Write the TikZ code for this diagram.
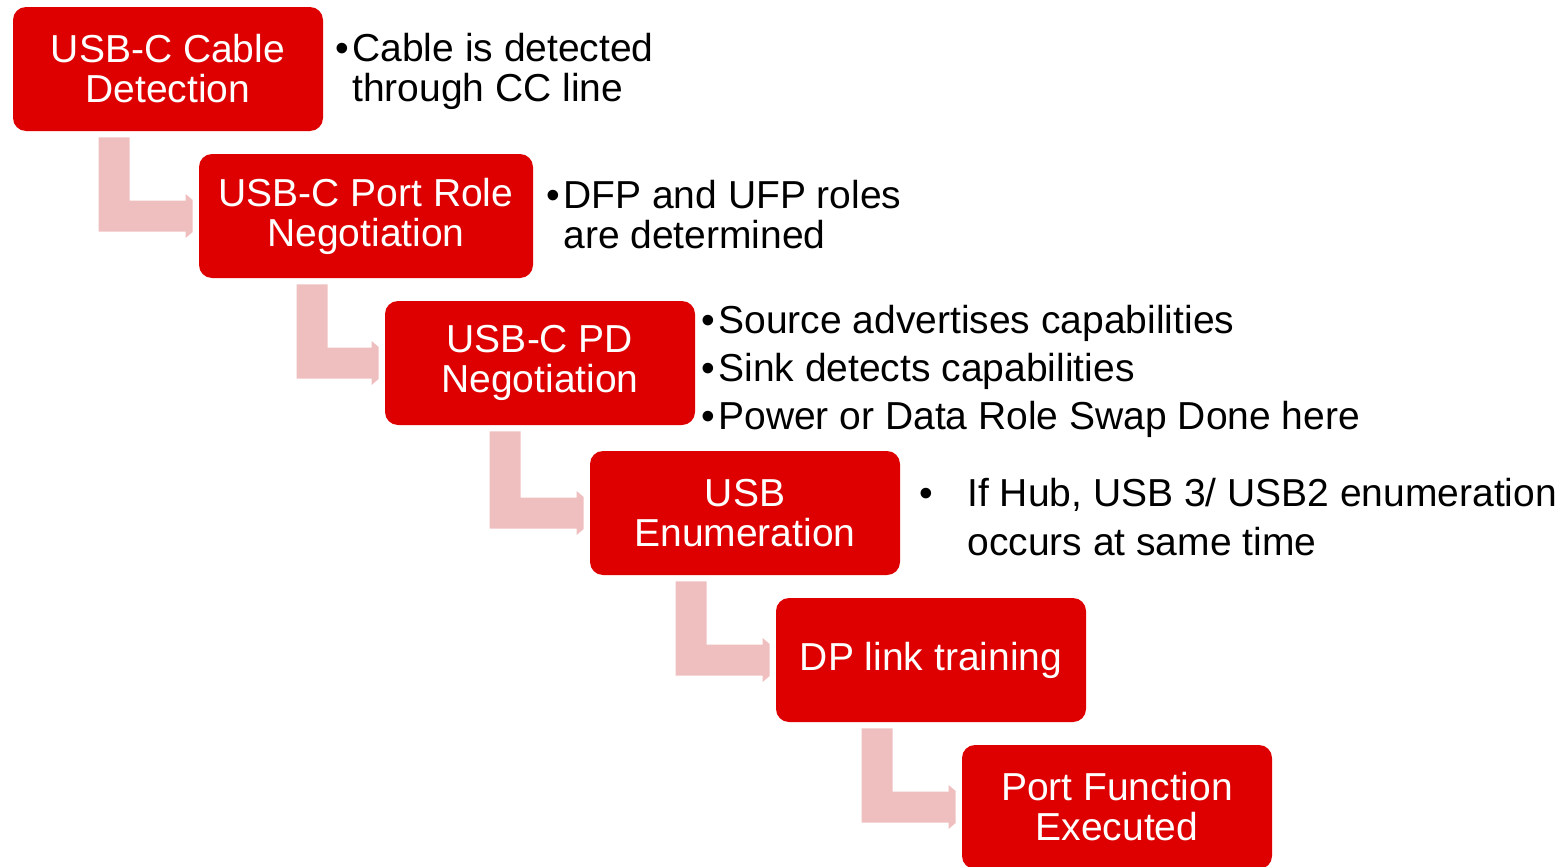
\documentclass[tikz,border=0pt]{standalone}
\usepackage{fontspec}
\setmainfont{Liberation Sans}
\usetikzlibrary{calc}

\definecolor{stagered}{RGB}{222,0,0}
\definecolor{stagepink}{RGB}{239,191,191}

% bent connector from the stage #1 down and into the stage #2
\newcommand{\stepconnector}[3]{%
    \fill[connector] ($(#2.west |- #1.south)+(-#3,6)$) -- ++(31,0)
        |- ($(#2.west)+(-13,-15.5)$) -- ++(0,-6.5) -- ++(7,6) -- ++(0,32)
        -- ++(-7,6) -- ++(0,-6.5) -| ($(#2.west |- #1.south)+(-#3,6)$) -- cycle;
}

\begin{document}
\begin{tikzpicture}[
        x=0.5pt, y=-0.5pt,
        stage/.style={
            rectangle,
            rounded corners=6.5pt,
            fill=stagered,
            text=white,
            align=center,
            inner sep=0pt,
            minimum width=155pt,
            minimum height=62pt,
            font=\fontsize{19.5}{20}\selectfont
        },
        note/.style={
            anchor=north west,
            inner sep=0pt,
            align=left,
            font=\fontsize{19.5}{20}\selectfont
        },
        connector/.style={
            fill=stagepink
        }
    ]

    \useasboundingbox (0,0) rectangle (1565,867);

    \node[stage] (cable) at (168,69) {USB-C Cable\\Detection};
    \node[stage, minimum width=167pt] (role) at (366,216) {USB-C Port Role\\Negotiation};
    \node[stage] (pd) at (540,363) {USB-C PD\\Negotiation};
    \node[stage] (enum) at (745,513) {USB\\Enumeration};
    \node[stage] (dp) at (931,660) {DP link training};
    \node[stage] (func) at (1117,807) {Port Function\\Executed};

    \stepconnector{cable}{role}{100}
    \stepconnector{role}{pd}{88}
    \stepconnector{pd}{enum}{100}
    \stepconnector{enum}{dp}{100}
    \stepconnector{dp}{func}{100}

    \node[note] (cablenote) at (352,33) {\llap{•\hspace{1.6pt}}Cable is detected\\through CC line};
    \node[note] (rolenote) at (563,180) {\llap{•\hspace{1.6pt}}DFP and UFP roles\\are determined};
    \node[note, font=\fontsize{19.5}{24}\selectfont] (pdnote) at (718,305) {\llap{•\hspace{1.6pt}}Source advertises capabilities\\\llap{•\hspace{1.6pt}}Sink detects capabilities\\\llap{•\hspace{1.6pt}}Power or Data Role Swap Done here};
    \node[note, font=\fontsize{19.5}{24.5}\selectfont] (enumnote) at (967,478) {\llap{•\hspace{17pt}}If Hub, USB 3/ USB2 enumeration\\occurs at same time};

\end{tikzpicture}
\end{document}
